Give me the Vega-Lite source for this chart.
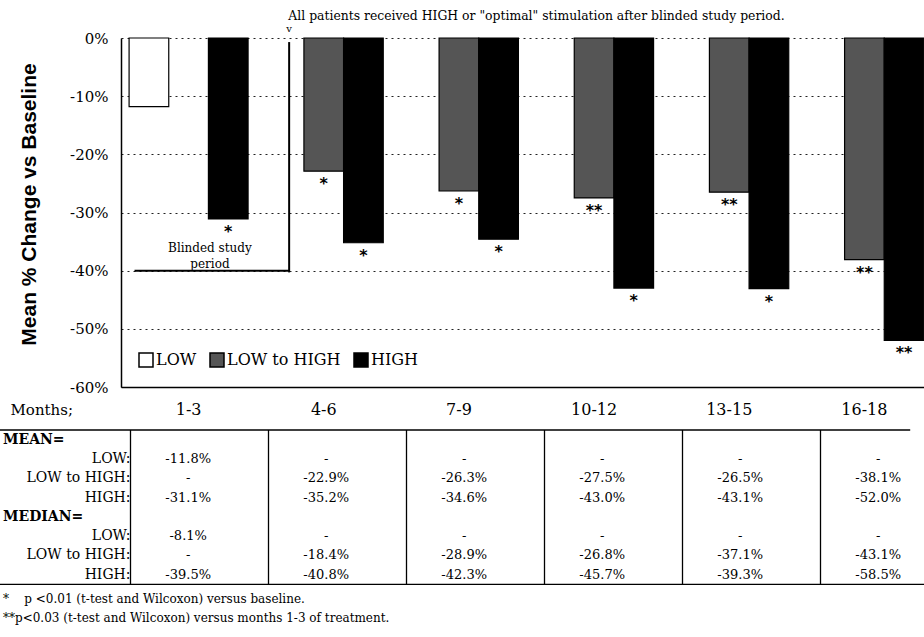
{
  "$schema": "https://vega.github.io/schema/vega-lite/v6.json",
  "width": 803,
  "height": 349,
  "autosize": {"type": "none"},
  "padding": {"left": 121, "top": 38, "right": 0, "bottom": 250},
  "background": "white",
  "config": {"view": {"stroke": null}, "font": "DejaVu Serif", "text": {"color": "black"}},
  "title": {"text": "All patients received HIGH or \"optimal\" stimulation after blinded study period.", "anchor": "middle", "dx": 14, "offset": 2, "fontSize": 12.4, "font": "DejaVu Serif", "fontWeight": "normal", "color": "black"},
  "datasets": {
    "bars": [
      {"month": "1-3", "group": "LOW", "pct": -11.8, "sig": ""},
      {"month": "1-3", "group": "HIGH", "pct": -31.1, "sig": "*"},
      {"month": "4-6", "group": "LOW to HIGH", "pct": -22.9, "sig": "*"},
      {"month": "4-6", "group": "HIGH", "pct": -35.2, "sig": "*"},
      {"month": "7-9", "group": "LOW to HIGH", "pct": -26.3, "sig": "*"},
      {"month": "7-9", "group": "HIGH", "pct": -34.6, "sig": "*"},
      {"month": "10-12", "group": "LOW to HIGH", "pct": -27.5, "sig": "**"},
      {"month": "10-12", "group": "HIGH", "pct": -43.0, "sig": "*"},
      {"month": "13-15", "group": "LOW to HIGH", "pct": -26.5, "sig": "**"},
      {"month": "13-15", "group": "HIGH", "pct": -43.1, "sig": "*"},
      {"month": "16-18", "group": "LOW to HIGH", "pct": -38.1, "sig": "**"},
      {"month": "16-18", "group": "HIGH", "pct": -52.0, "sig": "**"}
    ],
    "table": [
      {"month": "1-3", "row": "mean_low", "text": "-11.8%"},
      {"month": "4-6", "row": "mean_low", "text": "-"},
      {"month": "7-9", "row": "mean_low", "text": "-"},
      {"month": "10-12", "row": "mean_low", "text": "-"},
      {"month": "13-15", "row": "mean_low", "text": "-"},
      {"month": "16-18", "row": "mean_low", "text": "-"},
      {"month": "1-3", "row": "mean_lth", "text": "-"},
      {"month": "4-6", "row": "mean_lth", "text": "-22.9%"},
      {"month": "7-9", "row": "mean_lth", "text": "-26.3%"},
      {"month": "10-12", "row": "mean_lth", "text": "-27.5%"},
      {"month": "13-15", "row": "mean_lth", "text": "-26.5%"},
      {"month": "16-18", "row": "mean_lth", "text": "-38.1%"},
      {"month": "1-3", "row": "mean_high", "text": "-31.1%"},
      {"month": "4-6", "row": "mean_high", "text": "-35.2%"},
      {"month": "7-9", "row": "mean_high", "text": "-34.6%"},
      {"month": "10-12", "row": "mean_high", "text": "-43.0%"},
      {"month": "13-15", "row": "mean_high", "text": "-43.1%"},
      {"month": "16-18", "row": "mean_high", "text": "-52.0%"},
      {"month": "1-3", "row": "median_low", "text": "-8.1%"},
      {"month": "4-6", "row": "median_low", "text": "-"},
      {"month": "7-9", "row": "median_low", "text": "-"},
      {"month": "10-12", "row": "median_low", "text": "-"},
      {"month": "13-15", "row": "median_low", "text": "-"},
      {"month": "16-18", "row": "median_low", "text": "-"},
      {"month": "1-3", "row": "median_lth", "text": "-"},
      {"month": "4-6", "row": "median_lth", "text": "-18.4%"},
      {"month": "7-9", "row": "median_lth", "text": "-28.9%"},
      {"month": "10-12", "row": "median_lth", "text": "-26.8%"},
      {"month": "13-15", "row": "median_lth", "text": "-37.1%"},
      {"month": "16-18", "row": "median_lth", "text": "-43.1%"},
      {"month": "1-3", "row": "median_high", "text": "-39.5%"},
      {"month": "4-6", "row": "median_high", "text": "-40.8%"},
      {"month": "7-9", "row": "median_high", "text": "-42.3%"},
      {"month": "10-12", "row": "median_high", "text": "-45.7%"},
      {"month": "13-15", "row": "median_high", "text": "-39.3%"},
      {"month": "16-18", "row": "median_high", "text": "-58.5%"}
    ],
    "rowlabels": [
      {"row": "mean_low", "label": "LOW:"},
      {"row": "mean_lth", "label": "LOW to HIGH:"},
      {"row": "mean_high", "label": "HIGH:"},
      {"row": "median_low", "label": "LOW:"},
      {"row": "median_lth", "label": "LOW to HIGH:"},
      {"row": "median_high", "label": "HIGH:"}
    ],
    "headers": [
      {"row": "MEAN=", "label": "MEAN="},
      {"row": "MEDIAN=", "label": "MEDIAN="}
    ],
    "notes": [
      {"row": "fn1", "label": "*\u00a0\u00a0\u00a0\u00a0p <0.01 (t-test and Wilcoxon) versus baseline."},
      {"row": "fn2", "label": "**p<0.03 (t-test and Wilcoxon) versus months 1-3 of treatment."}
    ],
    "months": [
      {"month": "1-3"}, {"month": "4-6"}, {"month": "7-9"}, {"month": "10-12"}, {"month": "13-15"}, {"month": "16-18"}
    ]
  },
  "layer": [
    {
      "layer": [
        {
          "data": {"name": "bars"},
          "mark": {"type": "bar", "stroke": "black", "strokeWidth": 1.2},
          "encoding": {
            "x": {
              "field": "month", "type": "nominal",
              "scale": {"type": "band", "domain": ["1-3", "4-6", "7-9", "10-12", "13-15", "16-18"], "range": [0, 811], "paddingInner": 0, "paddingOuter": 0},
              "axis": {"title": "Months;", "labelAngle": 0, "labelFontSize": 16, "labelFont": "DejaVu Serif", "labelColor": "black", "labelPadding": 14, "ticks": false, "domainColor": "black", "domainWidth": 1.5, "grid": false, "titleFont": "DejaVu Serif", "titleFontSize": 15, "titleFontWeight": "normal", "titleColor": "black", "titleAlign": "left", "titleX": -111, "titleY": 22, "titleBaseline": "middle"}
            },
            "xOffset": {
              "field": "group", "type": "nominal",
              "scale": {"domain": ["LOW", "LOW to HIGH", "HIGH"], "paddingInner": 0, "paddingOuter": 0.204}
            },
            "y": {
              "field": "pct", "type": "quantitative",
              "scale": {"domain": [-60, 0], "nice": false},
              "axis": {"values": [0, -10, -20, -30, -40, -50, -60], "labelExpr": "datum.value + '%'", "title": "Mean % Change vs Baseline", "titleFont": "Liberation Sans", "titleFontSize": 21, "titleFontWeight": "bold", "titleColor": "black", "titlePadding": 30, "titleY": 166, "labelFont": "DejaVu Serif", "labelFontSize": 15, "labelColor": "black", "labelPadding": 13, "ticks": false, "domainColor": "black", "domainWidth": 1.5, "grid": true, "gridColor": "#222222", "gridDash": [2, 4], "gridWidth": 1}
            },
            "color": {
              "field": "group", "type": "nominal",
              "scale": {"domain": ["LOW", "LOW to HIGH", "HIGH"], "range": ["#ffffff", "#555555", "#000000"]},
              "legend": {"orient": "none", "legendX": 17, "legendY": 314, "direction": "horizontal", "title": null, "symbolType": "square", "symbolSize": 196, "symbolStrokeColor": "black", "symbolStrokeWidth": 1.5, "symbolOpacity": 1, "labelFontSize": 16, "labelFont": "DejaVu Serif", "labelColor": "black", "columnPadding": 10, "labelOffset": 2, "padding": 0}
            }
          }
        },
        {
          "data": {"name": "bars"},
          "mark": {"type": "text", "baseline": "top", "dy": 5, "font": "DejaVu Sans", "fontWeight": "bold", "fontSize": 16},
          "encoding": {
            "x": {"field": "month", "type": "nominal"},
            "xOffset": {"field": "group", "type": "nominal"},
            "y": {"field": "pct", "type": "quantitative"},
            "text": {"field": "sig"}
          }
        },
        {
          "data": {"values": [{}]},
          "mark": {"type": "rule", "strokeWidth": 2, "color": "black"},
          "encoding": {
            "x": {"datum": "4-6", "bandPosition": 0.244},
            "y": {"datum": -0.7},
            "y2": {"datum": -40.3}
          }
        },
        {
          "data": {"values": [{}]},
          "mark": {"type": "rule", "strokeWidth": 2, "color": "black"},
          "encoding": {
            "x": {"datum": "1-3", "bandPosition": 0.1},
            "x2": {"datum": "4-6", "bandPosition": 0.244},
            "y": {"datum": -40}
          }
        },
        {
          "data": {"values": [{}]},
          "mark": {"type": "text", "text": ["Blinded study", "period"], "fontSize": 12, "baseline": "top", "lineHeight": 16, "align": "center"},
          "encoding": {
            "x": {"datum": "1-3", "bandPosition": 0.658},
            "y": {"datum": -35.3}
          }
        },
        {
          "data": {"values": [{}]},
          "mark": {"type": "text", "text": "v", "fontSize": 10, "baseline": "bottom", "dy": -4},
          "encoding": {
            "x": {"datum": "4-6", "bandPosition": 0.244},
            "y": {"datum": 0}
          }
        }
      ]
    },
    {
      "layer": [
        {
          "data": {"name": "table"},
          "mark": {"type": "text", "fontSize": 13, "baseline": "middle"},
          "encoding": {
            "x": {
              "field": "month", "type": "nominal", "bandPosition": 0.418,
              "scale": {"type": "band", "domain": ["label", "1-3", "4-6", "7-9", "10-12", "13-15", "16-18"], "range": [-128.5, 837.5], "paddingInner": 0, "paddingOuter": 0},
              "axis": null
            },
            "y": {
              "field": "row", "type": "nominal",
              "scale": {"type": "band", "domain": ["MEAN=", "mean_low", "mean_lth", "mean_high", "MEDIAN=", "median_low", "median_lth", "median_high", "fn1", "fn2"], "range": [392, 585], "paddingInner": 0, "paddingOuter": 0},
              "axis": null
            },
            "text": {"field": "text"}
          }
        },
        {
          "data": {"name": "headers"},
          "mark": {"type": "text", "fontSize": 14, "fontWeight": "bold", "align": "left", "baseline": "middle"},
          "encoding": {
            "x": {"datum": "label", "bandPosition": 0.076},
            "y": {"field": "row", "type": "nominal"},
            "text": {"field": "label"}
          }
        },
        {
          "data": {"name": "rowlabels"},
          "mark": {"type": "text", "fontSize": 14, "align": "right", "baseline": "middle"},
          "encoding": {
            "x": {"datum": "label", "bandPosition": 1},
            "y": {"field": "row", "type": "nominal"},
            "text": {"field": "label"}
          }
        },
        {
          "data": {"name": "notes"},
          "mark": {"type": "text", "fontSize": 12, "align": "left", "baseline": "middle", "dy": 5},
          "encoding": {
            "x": {"datum": "label", "bandPosition": 0.076},
            "y": {"field": "row", "type": "nominal"},
            "text": {"field": "label"}
          }
        },
        {
          "data": {"values": [{}]},
          "mark": {"type": "rule", "strokeWidth": 1.3, "color": "black"},
          "encoding": {
            "x": {"datum": "label", "bandPosition": 0.054},
            "x2": {"datum": "16-18", "bandPosition": 0.65},
            "y": {"datum": "MEAN=", "bandPosition": 0}
          }
        },
        {
          "data": {"values": [{}]},
          "mark": {"type": "rule", "strokeWidth": 1.3, "color": "black"},
          "encoding": {
            "x": {"datum": "label", "bandPosition": 0.054},
            "x2": {"datum": "16-18", "bandPosition": 0.75},
            "y": {"datum": "fn1", "bandPosition": 0}
          }
        },
        {
          "data": {"name": "months"},
          "mark": {"type": "rule", "strokeWidth": 1.3, "color": "black"},
          "encoding": {
            "x": {"field": "month", "type": "nominal", "bandPosition": 0},
            "y": {"datum": "MEAN=", "bandPosition": 0},
            "y2": {"datum": "fn1", "bandPosition": 0}
          }
        }
      ]
    }
  ],
  "resolve": {"scale": {"x": "independent", "y": "independent"}, "axis": {"x": "independent", "y": "independent"}}
}
